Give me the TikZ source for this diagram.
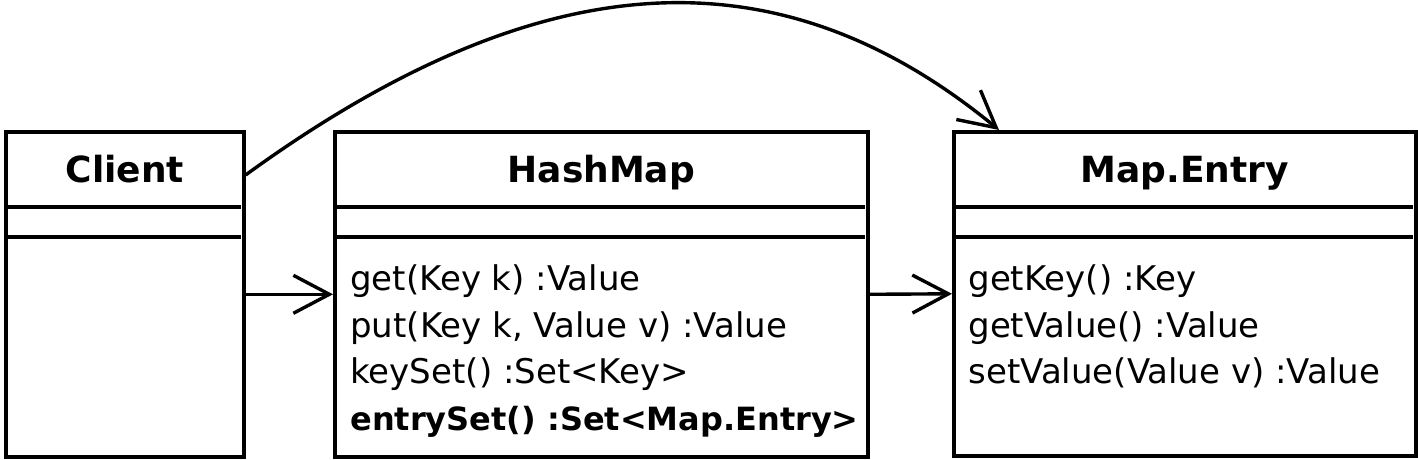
\documentclass[tikz,border=0pt]{standalone}
\usepackage{fontspec}
\setmainfont{DejaVu Sans}
\usetikzlibrary{arrows.meta,calc}
\begin{document}
\begin{tikzpicture}[x=0.5pt,y=-0.5pt,
  classbox/.style={draw, line width=1.8pt, rectangle, anchor=north west, inner sep=0pt},
  sepline/.style={line width=1.8pt},
  classtitle/.style={anchor=base, inner sep=0pt, font=\fontsize{18pt}{22pt}\selectfont\bfseries},
  op/.style={anchor=base west, inner sep=0pt, font=\fontsize{17pt}{21pt}\selectfont},
  opb/.style={anchor=base west, inner sep=0pt, font=\fontsize{16pt}{20pt}\selectfont\bfseries},
  assoc/.style={line width=1.7pt, -{Straight Barb[length=18pt,width=19pt]}}]
\useasboundingbox (0,0) rectangle (1418,460);

% class boxes
\node[classbox, minimum width=119pt, minimum height=162.5pt] (client) at (4,130) {};
\node[classbox, minimum width=266.5pt, minimum height=162.5pt] (hashmap) at (333,130) {};
\node[classbox, minimum width=231pt, minimum height=162pt] (entry) at (952,130) {};

% compartments
\foreach \b in {client,hashmap,entry}{
  \draw[sepline] ($(\b.north west)+(0,77)$) -- ($(\b.north east)+(-5,77)$);
  \draw[sepline] ($(\b.north west)+(0,107)$) -- ($(\b.north east)+(-5,107)$);
}

% titles
\node[classtitle] (clientT) at ($(client.north)+(0,53)$) {Client};
\node[classtitle] (hashmapT) at ($(hashmap.north)+(0,53)$) {HashMap};
\node[classtitle] (entryT) at ($(entry.north)+(0,53)$) {Map.Entry};

% operations
\node[op] (h1) at (350,290) {get(Key k) :Value};
\node[op] (h2) at (350,337) {put(Key k, Value v) :Value};
\node[op] (h3) at (350,383) {keySet() :Set<Key>};
\node[opb] (h4) at (350,430) {entrySet() :Set<Map.Entry>};

\node[op] (e1) at (968,290) {getKey() :Key};
\node[op] (e2) at (968,337) {getValue() :Value};
\node[op] (e3) at (968,383) {setValue(Value v) :Value};

% associations
\draw[assoc] (client.east) -- (hashmap.west);
\draw[assoc] (hashmap.east) -- (entry.west);
\coordinate (cs) at ($(client.north east)+(0,45)$);
\coordinate (ce) at ($(entry.north west)+(47,0)$);
\draw[assoc] (cs) .. controls (550,-46) and (785,-46) .. (ce);
\end{tikzpicture}
\end{document}
